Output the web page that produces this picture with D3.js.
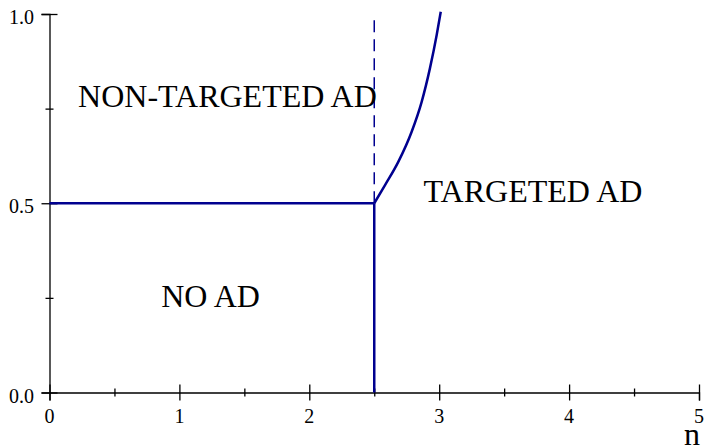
<!DOCTYPE html>
<html>
<head>
<meta charset="utf-8">
<script src="https://cdn.jsdelivr.net/npm/d3@7"></script>
<style>
  body { margin: 0; background: #fff; }
</style>
</head>
<body>
<div id="chart"></div>
<script>
  // region boundaries (n on x, value on y)
  var xMajor = [0, 1, 2, 3, 4, 5],
      xMinor = [0.5, 1.5, 2.5, 3.5, 4.5],
      yMajor = [0, 0.5, 1.0],
      yMinor = [0.25, 0.75];

  var flatN   = [0, 2.5],
      flatY   = [0.5, 0.5];
  var stemN   = [2.5, 2.5],
      stemY   = [0, 0.5];
  var dashN   = [2.5, 2.5],
      dashY   = [0.5, 0.992];
  var curveN  = [2.5, 2.583, 2.686, 2.788, 2.865, 2.929, 2.981, 3.012],
      curveY  = [0.5, 0.548, 0.61, 0.689, 0.768, 0.857, 0.945, 1.006];

  var regionLabels = ["NON-TARGETED AD", "TARGETED AD", "NO AD"],
      labelN       = [0.22, 2.88, 0.86],
      labelY       = [0.754, 0.503, 0.227];

  var width  = 706,
      height = 446,
      blue   = "#00008f",
      font   = "'Liberation Serif', 'Times New Roman', 'DejaVu Serif', serif";

  var svg = d3.select("#chart")
              .append("svg")
              .attr("width", width)
              .attr("height", height);

  var x = d3.scaleLinear().domain([0, 5]).range([49.5, 699]);
  var y = d3.scaleLinear().domain([0, 1]).range([392.5, 14]);

  // x axis: major ticks cross the line, minor ones are short
  var gx = svg.append("g").attr("transform", "translate(0," + y(0) + ")");
  gx.call(d3.axisBottom(x).tickValues(xMajor).tickSize(8).tickFormat(""));
  gx.selectAll(".tick line").attr("y1", -8);
  gx.append("g").call(d3.axisBottom(x).tickValues(xMinor).tickSize(4).tickFormat(""))
    .call(g => g.select(".domain").remove())
    .selectAll(".tick line").attr("y1", -4);

  var gy = svg.append("g").attr("transform", "translate(" + x(0) + ",0)");
  gy.call(d3.axisLeft(y).tickValues(yMajor).tickSize(8).tickFormat(""));
  gy.selectAll(".tick line").attr("x1", 8);
  gy.append("g").call(d3.axisLeft(y).tickValues(yMinor).tickSize(4).tickFormat(""))
    .call(g => g.select(".domain").remove())
    .selectAll(".tick line").attr("x1", 4);

  svg.selectAll(".domain").attr("stroke", "#000").attr("stroke-width", 1.3);
  svg.selectAll(".tick line").attr("stroke", "#000").attr("stroke-width", 1.3);

  svg.selectAll(".xlab")
     .data(xMajor)
     .enter()
     .append("text")
     .attr("x", d => x(d))
     .attr("y", y(0) + 30.5)
     .attr("text-anchor", "middle")
     .attr("font-family", font)
     .attr("font-size", 20)
     .text(d => d);

  svg.selectAll(".ylab")
     .data(yMajor)
     .enter()
     .append("text")
     .attr("x", 34)
     .attr("y", d => y(d) + 10)
     .attr("text-anchor", "end")
     .attr("font-family", font)
     .attr("font-size", 20)
     .text(d3.format(".1f"));

  svg.append("text")
     .attr("x", 700)
     .attr("y", 445)
     .attr("text-anchor", "end")
     .attr("font-family", font)
     .attr("font-size", 32)
     .text("n");

  var line = d3.line()
               .x(d => x(d[0]))
               .y(d => y(d[1]));

  function pairs(ns, ys){ return ns.map((n, i) => [n, ys[i]]); }

  svg.append("path")
     .attr("d", line(pairs(flatN, flatY)))
     .attr("fill", "none").attr("stroke", blue).attr("stroke-width", 2.5);

  svg.append("path")
     .attr("d", line(pairs(stemN, stemY)))
     .attr("fill", "none").attr("stroke", blue).attr("stroke-width", 2.5);

  svg.append("path")
     .attr("d", line(pairs(dashN, dashY)))
     .attr("fill", "none").attr("stroke", blue).attr("stroke-width", 1.5)
     .attr("stroke-dasharray", "12,7");

  svg.append("path")
     .attr("d", line.curve(d3.curveMonotoneX)(pairs(curveN, curveY)))
     .attr("fill", "none").attr("stroke", blue).attr("stroke-width", 2.5);

  svg.selectAll(".region")
     .data(regionLabels)
     .enter()
     .append("text")
     .attr("x", (d, i) => x(labelN[i]))
     .attr("y", (d, i) => y(labelY[i]))
     .attr("font-family", font)
     .attr("font-size", 32)
     .text(d => d);
</script>
</body>
</html>
